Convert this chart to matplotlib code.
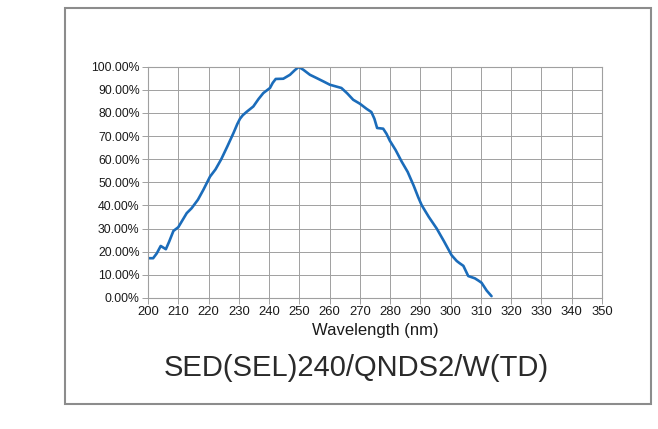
import matplotlib

matplotlib.use("Agg")
import matplotlib.pyplot as plt
import matplotlib.patches as patches
from matplotlib.ticker import FuncFormatter, MultipleLocator

plt.rcParams["font.family"] = ["Liberation Sans", "DejaVu Sans"]

# spectral response
wavelength = [
    200.1, 201.7, 202.9, 204.2, 205.9, 207.0, 208.4, 210.0, 212.8, 214.4,
    216.5, 218.3, 220.5, 222.3, 224.2, 226.2, 228.3, 229.5, 230.4, 231.3,
    232.6, 234.8, 236.5, 238.1, 240.3, 241.2, 242.2, 244.7, 246.9, 248.5,
    249.8, 251.3, 253.5, 255.7, 258.0, 260.1, 263.9, 265.8, 267.8, 270.0,
    272.2, 273.8, 274.8, 275.7, 277.7, 278.8, 279.9, 281.8, 283.8, 285.8,
    287.8, 289.3, 290.4, 291.5, 292.8, 295.4, 297.8, 300.3, 302.0, 303.0,
    304.2, 305.8, 308.0, 309.2, 310.2, 311.9, 313.5,
]
response = [
    17.2, 17.2, 19.3, 22.5, 21.1, 24.4, 29.0, 30.6, 36.7, 38.8,
    42.5, 46.8, 52.5, 55.6, 60.0, 65.5, 71.5, 75.2, 77.5, 79.0,
    80.5, 82.8, 86.0, 88.6, 90.8, 93.0, 94.7, 94.8, 96.5, 98.5,
    99.9, 98.7, 96.5, 95.1, 93.6, 92.2, 90.8, 88.5, 85.7, 84.0,
    81.8, 80.4, 77.5, 73.5, 73.2, 71.0, 68.0, 64.0, 59.0, 54.5,
    48.5, 43.5, 40.2, 37.8, 35.0, 30.0, 24.5, 18.5, 16.0, 15.0,
    13.9, 9.5, 8.5, 7.5, 6.6, 3.2, 0.8,
]

grid_gray = "#a0a0a0"

fig = plt.figure(figsize=(6.58, 4.29), dpi=100)
ax = fig.add_axes([148 / 658, 1 - 298 / 429, 454 / 658, 231.3 / 429])

ax.plot(wavelength, response, color="#1b6cba", linewidth=1.9,
        solid_capstyle="round", solid_joinstyle="round")

ax.set_xlim(200, 350)
ax.set_ylim(0, 100)
ax.xaxis.set_major_locator(MultipleLocator(10))
ax.yaxis.set_major_locator(MultipleLocator(10))
ax.yaxis.set_major_formatter(FuncFormatter(lambda v, _: f"{v:.2f}%"))

ax.grid(True, color=grid_gray, linewidth=0.7)
ax.set_axisbelow(True)
for spine in ax.spines.values():
    spine.set_color(grid_gray)
    spine.set_linewidth(0.8)
ax.tick_params(axis="both", colors=grid_gray, length=4, width=0.7,
               labelcolor="#1a1a1a", pad=2)
ax.tick_params(axis="x", labelsize=9.4)
ax.tick_params(axis="y", labelsize=8.8)

ax.set_xlabel("Wavelength (nm)", fontsize=12, color="#1a1a1a", labelpad=3)

fig.text(356 / 658, 1 - 368 / 429, "SED(SEL)240/QNDS2/W(TD)",
         fontsize=21, color="#2a2a2a", ha="center", va="center")

# grey frame around the whole chart
frame = patches.Rectangle((65 / 658, 1 - 404 / 429), 586 / 658, 396 / 429,
                          transform=fig.transFigure, fill=False,
                          edgecolor="#8c8c8c", linewidth=1.5)
fig.patches.append(frame)

fig.savefig("out.png", dpi=100)
